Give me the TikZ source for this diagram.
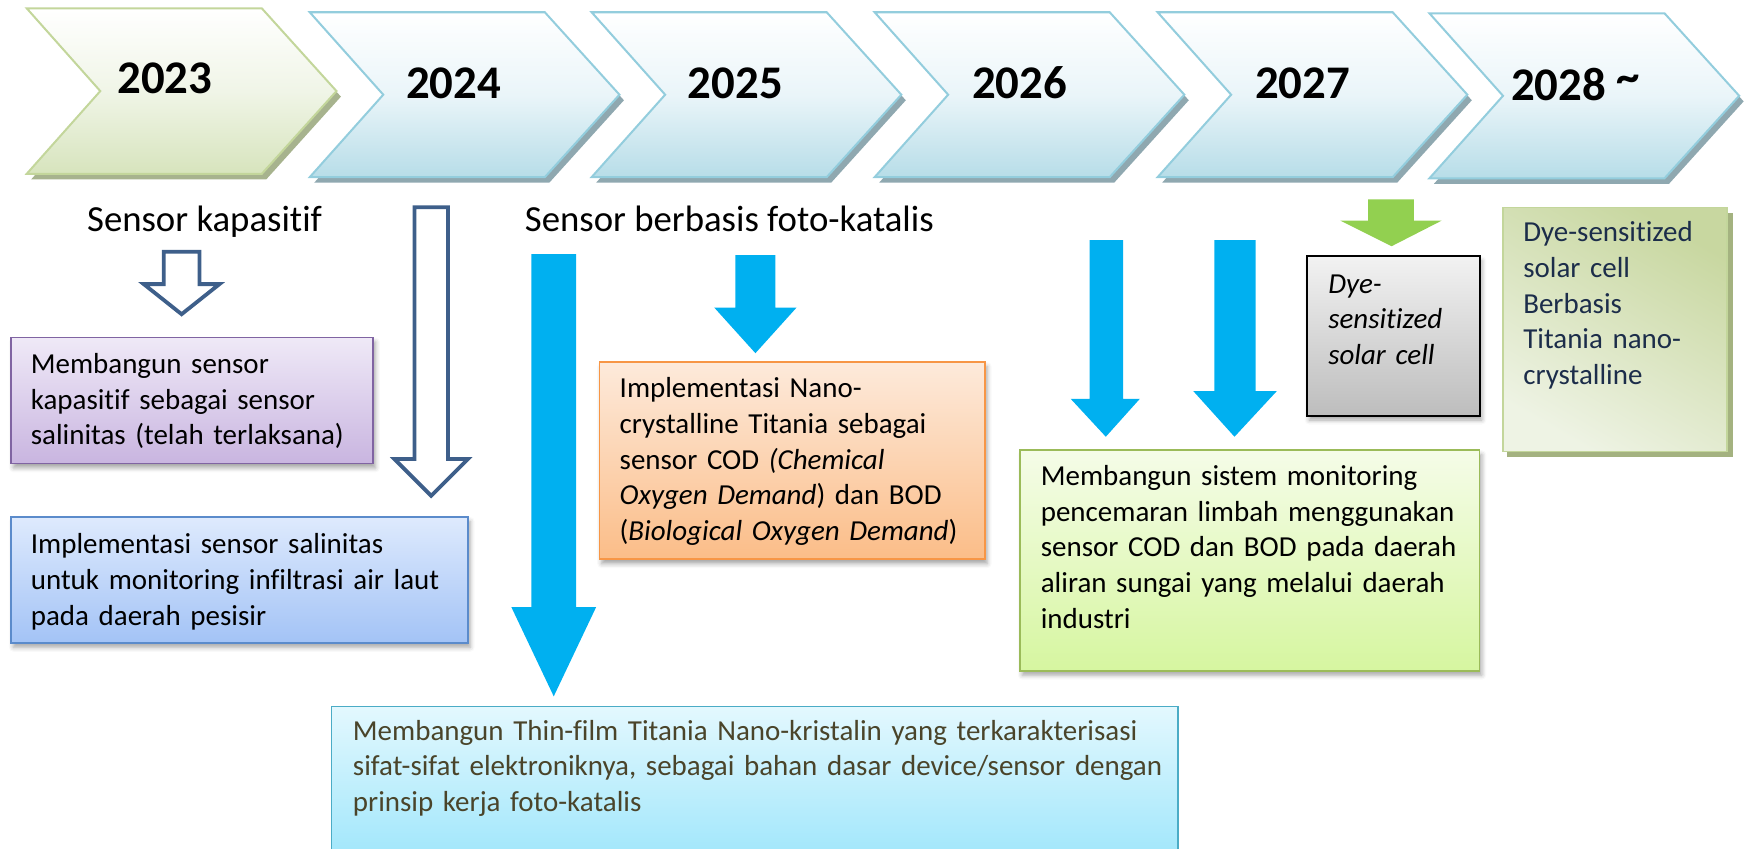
\documentclass[tikz,border=0pt]{standalone}
\usepackage{fontspec}
\setmainfont{Carlito}[Ligatures=CommonOff]
\usetikzlibrary{shadows,shadows.blur}
\definecolor{chevbd}{HTML}{93CDDD}
\definecolor{chevbot}{HTML}{B7DDE8}
\definecolor{chevmid}{HTML}{EAF5F9}
\definecolor{chevsh}{HTML}{8FA8B0}
\definecolor{gchevbd}{HTML}{C3D69B}
\definecolor{gchevbot}{HTML}{D7E4BD}
\definecolor{gchevmid}{HTML}{F0F5E7}
\definecolor{gchevsh}{HTML}{A7B38E}
\definecolor{outbl}{HTML}{3E5F8A}
\definecolor{cyanar}{HTML}{00B0F0}
\definecolor{greenar}{HTML}{92D050}
\definecolor{purbd}{HTML}{8064A2}
\definecolor{purtop}{HTML}{EFE9F7}
\definecolor{purbot}{HTML}{C9B5E0}
\definecolor{blubd}{HTML}{5B8BCB}
\definecolor{blutop}{HTML}{DEEAFD}
\definecolor{blubot}{HTML}{A3C3F6}
\definecolor{orbd}{HTML}{F79646}
\definecolor{ortop}{HTML}{FDEADB}
\definecolor{orbot}{HTML}{FBBD88}
\definecolor{grtop}{HTML}{F2F2F2}
\definecolor{grbot}{HTML}{BDBDBD}
\definecolor{olbd}{HTML}{C3D69B}
\definecolor{oldark}{HTML}{C8D7A0}
\definecolor{ollight}{HTML}{EEF3E4}
\definecolor{olsh}{HTML}{A4B280}
\definecolor{oltext}{HTML}{1C2D4A}
\definecolor{lgbd}{HTML}{9BBB59}
\definecolor{lgtop}{HTML}{F5FCE8}
\definecolor{lgbot}{HTML}{D6F6A0}
\definecolor{btbd}{HTML}{4BACC6}
\definecolor{bttop}{HTML}{E3F8FE}
\definecolor{btbot}{HTML}{9EE6FB}
\definecolor{bttext}{HTML}{4A442A}
\newcommand\fst{\rule{0pt}{22pt}}
\newcommand\drawchev[5]{%
  \begin{scope}[shift={(#1,0)}]
    \fill[#5] (4,#2+5) -- (215,#2+5) -- (282,{(#2+#3)/2+5}) -- (215,#3+5) -- (4,#3+5) -- (70,{(#2+#3)/2+5}) -- cycle;
    \path[#4] (0,#2) -- (211,#2) -- (278,{(#2+#3)/2}) -- (211,#3) -- (0,#3) -- (66,{(#2+#3)/2}) -- cycle;
  \end{scope}}
\begin{document}
\begin{tikzpicture}[x=1pt,y=-1pt,
  chevblue/.style={draw=chevbd, line width=1.8pt, line join=miter, top color=white, bottom color=chevbot, middle color=chevmid},
  chevgreen/.style={draw=gchevbd, line width=1.8pt, line join=miter, top color=white, bottom color=gchevbot, middle color=gchevmid},
  yeartext/.style={anchor=base, inner sep=0, font=\fontsize{42}{50}\selectfont\bfseries},
  headtext/.style={anchor=base west, inner sep=0, font=\fontsize{33}{40}\selectfont},
  boxtext/.style={anchor=north west, inner sep=0, align=left, text width=#1, font=\fontsize{26}{32}\selectfont},
  outarrow/.style={draw=outbl, line width=3.4pt, fill=white, line join=miter},
  cyanarrow/.style={fill=cyanar},
  greenarrow/.style={fill=greenar},
  softshadow/.style={blur shadow={shadow xshift=2pt, shadow yshift=-4pt, shadow blur radius=4pt, shadow opacity=35}},
  purbox/.style={draw=purbd, line width=1.5pt, top color=purtop, bottom color=purbot, softshadow},
  blubox/.style={draw=blubd, line width=1.5pt, top color=blutop, bottom color=blubot, softshadow},
  orbox/.style={draw=orbd, line width=1.5pt, top color=ortop, bottom color=orbot, softshadow},
  grbox/.style={draw=black, line width=1.8pt, top color=grtop, bottom color=grbot, softshadow},
  olbox/.style={draw=olbd, line width=1.2pt, top color=oldark, bottom color=ollight, shading angle=-30},
  lgbox/.style={draw=lgbd, line width=1.5pt, top color=lgtop, bottom color=lgbot, softshadow},
  btbox/.style={draw=btbd, line width=1.5pt, top color=bttop, bottom color=btbot}
]
\useasboundingbox (0,0) rectangle (1568,762);

% chevrons
\drawchev{24}{7.5}{156}{chevgreen}{gchevsh}
\drawchev{278}{11}{159}{chevblue}{chevsh}
\drawchev{531}{11}{159}{chevblue}{chevsh}
\drawchev{785}{11}{159}{chevblue}{chevsh}
\drawchev{1039}{11}{159}{chevblue}{chevsh}
\drawchev{1283}{12}{160}{chevblue}{chevsh}

\node[yeartext] (y2023) at (148,84) {2023};
\node[yeartext] (y2024) at (407,88) {2024};
\node[yeartext] (y2025) at (660,88) {2025};
\node[yeartext] (y2026) at (915,88) {2026};
\node[yeartext] (y2027) at (1169,88) {2027};
\node[yeartext, anchor=base west] (y2028) at (1356,90) {2028 \raisebox{7pt}{\char`~}};

% headings
\node[headtext] (hkap) at (78,208) {Sensor kapasitif};
\node[headtext] (hfoto) at (471,208) {Sensor berbasis foto-katalis};

% outline arrows
\draw[outarrow] (147,226) -- (179,226) -- (179,255) -- (197,255) -- (163,282) -- (129,255) -- (147,255) -- cycle;
\draw[outarrow] (372,186) -- (402,186) -- (402,412) -- (420,412) -- (387,445) -- (354,412) -- (372,412) -- cycle;

% cyan arrows
\fill[cyanarrow] (477,228) -- (517,228) -- (517,545) -- (535,545) -- (497,625) -- (459,545) -- (477,545) -- cycle;
\fill[cyanarrow] (660,229) -- (696,229) -- (696,276) -- (715,276) -- (678,317) -- (641,276) -- (660,276) -- cycle;
\fill[cyanarrow] (978,215.5) -- (1008,215.5) -- (1008,358) -- (1023,358) -- (992.5,392) -- (961,358) -- (978,358) -- cycle;
\fill[cyanarrow] (1090,215.5) -- (1127,215.5) -- (1127,351) -- (1146,351) -- (1108,392) -- (1071,351) -- (1090,351) -- cycle;
\fill[greenarrow] (1228,179) -- (1269,179) -- (1269,198) -- (1294,198) -- (1249,221) -- (1203,198) -- (1228,198) -- cycle;

% boxes
\path[purbox] (10,303) rectangle (335,416);
\node[boxtext=320pt] (tpur) at (27.5,313) {\fst Membangun sensor\\kapasitif sebagai sensor\\salinitas (telah terlaksana)};

\path[blubox] (10,464) rectangle (420,577);
\node[boxtext=390pt] (tblu) at (27.5,475) {\fst Implementasi sensor salinitas\\untuk monitoring infiltrasi air laut\\pada daerah pesisir};

\path[orbox] (538,325) rectangle (884,502);
\node[boxtext=330pt] (tor) at (556,335) {\fst Implementasi Nano-\\crystalline Titania sebagai\\sensor COD \textit{(Chemical}\\\textit{Oxygen Demand}) dan BOD\\(\textit{Biological Oxygen Demand})};

\path[grbox] (1173,230) rectangle (1328,373);
\node[boxtext=140pt] (tgr) at (1192,241) {\itshape\fst Dye-\\sensitized\\solar cell};

\fill[olsh] (1353,191) rectangle (1555,410);
\path[olbox] (1349,186) rectangle (1550,405);
\node[boxtext=185pt, text=oltext] (tol) at (1367,195) {\fst Dye-sensitized\\solar cell\\Berbasis\\Titania nano-\\crystalline};

\path[lgbox] (915.5,404) rectangle (1328,602);
\node[boxtext=400pt] (tlg) at (934,413.5) {\fst Membangun sistem monitoring\\pencemaran limbah menggunakan\\sensor COD dan BOD pada daerah\\aliran sungai yang melalui daerah\\industri};

\path[btbox] (297.6,634) rectangle (1057.5,775);
\node[boxtext=740pt, text=bttext] (tbt) at (316.6,642) {\fst Membangun Thin-film Titania Nano-kristalin yang terkarakterisasi\\sifat-sifat elektroniknya, sebagai bahan dasar device/sensor dengan\\prinsip kerja foto-katalis};
\end{tikzpicture}
\end{document}
